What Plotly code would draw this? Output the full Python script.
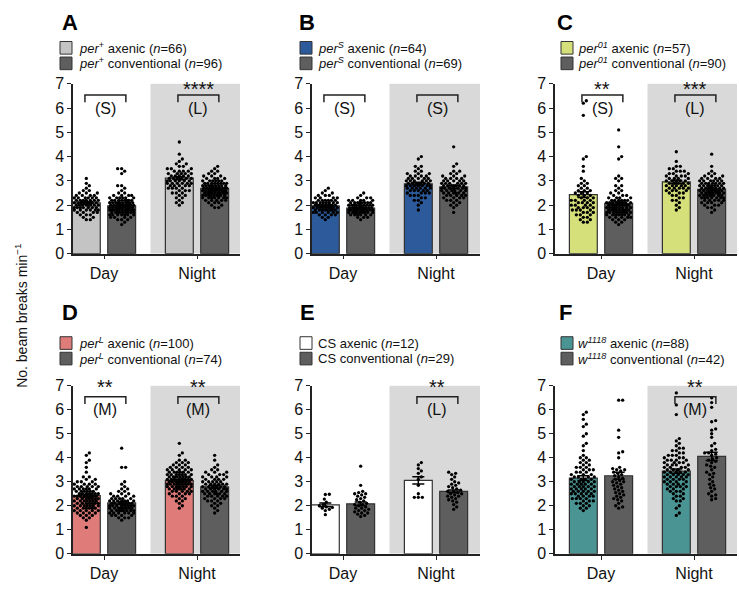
import plotly.graph_objects as go

W, H = 739, 589
FONT = "Liberation Sans, Arial, sans-serif"

# ---------------- data ----------------
periods = ["Day", "Night"]
panel_letters = ["A", "B", "C", "D", "E", "F"]
axenic_labels = [
    "<i>per</i><sup>+</sup> axenic (<i>n</i>=66)",
    "<i>per<sup>S</sup></i> axenic (<i>n</i>=64)",
    "<i>per<sup>01</sup></i> axenic (<i>n</i>=57)",
    "<i>per<sup>L</sup></i> axenic (<i>n</i>=100)",
    "CS axenic (<i>n</i>=12)",
    "<i>w<sup>1118</sup></i> axenic (<i>n</i>=88)",
]
conv_labels = [
    "<i>per</i><sup>+</sup> conventional (<i>n</i>=96)",
    "<i>per<sup>S</sup></i> conventional (<i>n</i>=69)",
    "<i>per<sup>01</sup></i> conventional (<i>n</i>=90)",
    "<i>per<sup>L</sup></i> conventional (<i>n</i>=74)",
    "CS conventional (<i>n</i>=29)",
    "<i>w<sup>1118</sup></i> conventional (<i>n</i>=42)",
]
axenic_colors = ["#c4c4c4", "#2d5a9b", "#d5e07a", "#df7c79", "#ffffff", "#4a9494"]
conv_color = "#5e5e5e"

# bar means / SEM  [Day, Night]
mean_ax = [[2.09, 3.11], [1.97, 2.88], [2.43, 2.96], [2.42, 3.05], [2.04, 3.06], [3.15, 3.44]]
mean_cv = [[1.97, 2.69], [1.88, 2.75], [2.07, 2.65], [2.12, 2.79], [2.08, 2.60], [3.25, 4.06]]
sem_ax = [[0.05, 0.06], [0.04, 0.06], [0.12, 0.07], [0.06, 0.05], [0.08, 0.15], [0.10, 0.09]]
sem_cv = [[0.04, 0.04], [0.03, 0.06], [0.06, 0.05], [0.06, 0.06], [0.08, 0.06], [0.15, 0.17]]

# individual flies: value -> count (read from dot clouds), or plain value lists
A_ax_day = {1.4: 2, 1.5: 2, 1.6: 3, 1.7: 4, 1.8: 6, 1.9: 7, 2.0: 8, 2.1: 8, 2.2: 7, 2.3: 6, 2.4: 4,
            2.5: 3, 2.6: 2, 2.7: 1, 2.8: 1, 2.9: 1, 3.1: 1}
A_cv_day = {1.2: 1, 1.3: 1, 1.4: 3, 1.5: 4, 1.6: 7, 1.7: 9, 1.8: 11, 1.9: 11, 2.0: 11, 2.1: 10, 2.2: 8,
            2.3: 6, 2.4: 4, 2.5: 2, 2.6: 1, 2.7: 1, 2.8: 2, 3.3: 1, 3.4: 1, 3.5: 2}
A_ax_night = {2.0: 1, 2.1: 2, 2.2: 1, 2.3: 2, 2.4: 2, 2.5: 3, 2.6: 3, 2.7: 4, 2.8: 5, 2.9: 6, 3.0: 6,
              3.1: 6, 3.2: 5, 3.3: 5, 3.4: 4, 3.5: 3, 3.6: 2, 3.7: 2, 3.8: 1, 3.9: 1, 4.1: 1, 4.6: 1}
A_cv_night = {1.9: 2, 2.0: 2, 2.1: 3, 2.2: 5, 2.3: 7, 2.4: 9, 2.5: 10, 2.6: 11, 2.7: 11, 2.8: 9, 2.9: 8,
              3.0: 6, 3.1: 4, 3.2: 3, 3.3: 2, 3.4: 2, 3.5: 1, 3.6: 1}

B_ax_day = {1.4: 1, 1.5: 2, 1.6: 4, 1.7: 6, 1.8: 8, 1.9: 9, 2.0: 9, 2.1: 8, 2.2: 6, 2.3: 4, 2.4: 3,
            2.5: 2, 2.6: 1, 2.7: 1}
B_cv_day = {1.4: 1, 1.5: 3, 1.6: 6, 1.7: 9, 1.8: 11, 1.9: 11, 2.0: 10, 2.1: 8, 2.2: 5, 2.3: 3, 2.4: 1,
            2.5: 1}
B_ax_night = {1.8: 1, 2.0: 1, 2.1: 1, 2.2: 2, 2.3: 2, 2.4: 3, 2.5: 4, 2.6: 5, 2.7: 6, 2.8: 7, 2.9: 7,
              3.0: 6, 3.1: 5, 3.2: 4, 3.3: 3, 3.4: 2, 3.5: 1, 3.6: 2, 3.9: 1, 4.0: 1}
B_cv_night = {1.7: 1, 1.9: 1, 2.0: 2, 2.1: 2, 2.2: 3, 2.3: 4, 2.4: 5, 2.5: 6, 2.6: 6, 2.7: 7, 2.8: 7,
              2.9: 6, 3.0: 5, 3.1: 4, 3.2: 3, 3.3: 2, 3.4: 2, 3.6: 1, 3.7: 1, 4.4: 1}

C_ax_day = {1.3: 2, 1.4: 2, 1.5: 2, 1.6: 3, 1.7: 3, 1.8: 4, 1.9: 4, 2.0: 4, 2.1: 4, 2.2: 4, 2.3: 3,
            2.4: 3, 2.5: 3, 2.6: 3, 2.7: 2, 2.8: 2, 2.9: 2, 3.0: 1, 3.1: 1, 3.4: 1, 3.6: 1, 3.9: 1,
            4.0: 1, 5.7: 1, 6.2: 1, 6.3: 1}
C_cv_day = {1.2: 1, 1.3: 2, 1.4: 3, 1.5: 5, 1.6: 7, 1.7: 9, 1.8: 9, 1.9: 9, 2.0: 9, 2.1: 8, 2.2: 6,
            2.3: 4, 2.4: 3, 2.5: 2, 2.6: 2, 2.7: 1, 2.8: 2, 3.0: 1, 3.1: 2, 3.2: 1, 3.9: 1, 4.0: 1,
            4.4: 1, 5.1: 1}
C_ax_night = {1.8: 1, 1.9: 1, 2.0: 1, 2.1: 1, 2.2: 2, 2.3: 2, 2.4: 2, 2.5: 3, 2.6: 4, 2.7: 5, 2.8: 5,
              2.9: 5, 3.0: 5, 3.1: 4, 3.2: 4, 3.3: 3, 3.4: 3, 3.5: 2, 3.6: 2, 3.8: 1, 4.2: 1}
C_cv_night = {1.7: 1, 1.8: 1, 1.9: 2, 2.0: 3, 2.1: 4, 2.2: 5, 2.3: 7, 2.4: 8, 2.5: 9, 2.6: 9, 2.7: 8,
              2.8: 8, 2.9: 7, 3.0: 6, 3.1: 4, 3.2: 3, 3.3: 2, 3.4: 1, 3.6: 1, 4.1: 1}

D_ax_day = {1.1: 1, 1.4: 1, 1.5: 2, 1.6: 3, 1.7: 4, 1.8: 5, 1.9: 6, 2.0: 7, 2.1: 7, 2.2: 7, 2.3: 7,
            2.4: 8, 2.5: 7, 2.6: 6, 2.7: 6, 2.8: 5, 2.9: 4, 3.0: 3, 3.1: 2, 3.2: 2, 3.4: 1, 3.6: 1,
            3.8: 1, 3.9: 1, 4.1: 1, 4.2: 1}
D_cv_day = {1.4: 1, 1.5: 3, 1.6: 4, 1.7: 6, 1.8: 8, 1.9: 8, 2.0: 8, 2.1: 7, 2.2: 7, 2.3: 5, 2.4: 4,
            2.5: 3, 2.6: 2, 2.7: 2, 2.8: 1, 2.9: 1, 3.0: 1, 3.6: 2, 4.4: 1}
D_ax_night = {1.9: 1, 2.0: 1, 2.1: 1, 2.2: 2, 2.3: 2, 2.4: 3, 2.5: 4, 2.6: 5, 2.7: 7, 2.8: 8, 2.9: 9,
              3.0: 8, 3.1: 8, 3.2: 8, 3.3: 7, 3.4: 6, 3.5: 5, 3.6: 4, 3.7: 3, 3.8: 3, 3.9: 2, 4.1: 1,
              4.2: 1, 4.6: 1}
D_cv_night = {1.7: 1, 1.8: 1, 1.9: 1, 2.0: 2, 2.1: 2, 2.2: 3, 2.3: 4, 2.4: 5, 2.5: 6, 2.6: 6, 2.7: 6,
              2.8: 6, 2.9: 6, 3.0: 5, 3.1: 4, 3.2: 4, 3.3: 3, 3.4: 3, 3.5: 2, 3.6: 1, 3.7: 1, 3.9: 1,
              4.1: 1}

E_ax_day = [2.48, 2.47, 2.28, 2.15, 2.05, 2.0, 1.95, 1.93, 1.9, 1.85, 1.8, 1.63]
E_cv_day = [3.65, 2.85, 2.6, 2.55, 2.5, 2.5, 2.45, 2.4, 2.35, 2.3, 2.25, 2.2, 2.15, 2.1, 2.05, 2.05,
            2.0, 1.95, 1.9, 1.9, 1.85, 1.8, 1.8, 1.75, 1.7, 1.7, 1.65, 1.6, 1.55]
E_ax_night = [3.8, 3.7, 3.55, 3.45, 3.35, 3.2, 3.1, 2.85, 2.5, 2.35, 2.35, 2.35]
E_cv_night = [3.4, 3.35, 3.3, 3.2, 3.1, 3.0, 2.95, 2.9, 2.85, 2.8, 2.75, 2.7, 2.65, 2.6, 2.6, 2.55,
              2.5, 2.5, 2.45, 2.4, 2.4, 2.35, 2.3, 2.25, 2.2, 2.15, 2.05, 1.95, 1.85]

F_ax_day = {1.8: 1, 1.9: 2, 2.0: 2, 2.1: 3, 2.2: 3, 2.3: 4, 2.4: 4, 2.5: 5, 2.6: 5, 2.7: 5, 2.8: 5,
            2.9: 5, 3.0: 5, 3.1: 4, 3.2: 4, 3.3: 3, 3.4: 3, 3.5: 3, 3.6: 3, 3.7: 2, 3.8: 2, 3.9: 2,
            4.0: 2, 4.1: 1, 4.3: 1, 4.5: 1, 4.6: 1, 4.9: 1, 5.0: 1, 5.3: 1, 5.4: 1, 5.6: 1, 5.8: 1,
            5.9: 1}
F_cv_day = [6.4, 6.4, 5.15, 4.85, 4.25, 4.2, 4.0, 3.6, 3.55, 3.5, 3.5, 3.45, 3.4, 3.35, 3.3, 3.25,
            3.2, 3.15, 3.1, 3.05, 3.0, 3.0, 2.95, 2.9, 2.85, 2.8, 2.75, 2.7, 2.65, 2.6, 2.55, 2.5,
            2.45, 2.4, 2.35, 2.3, 2.25, 2.2, 2.1, 2.0, 1.95, 1.9]
F_ax_night = {1.6: 1, 1.7: 1, 1.9: 1, 2.0: 1, 2.2: 2, 2.3: 2, 2.4: 2, 2.5: 2, 2.6: 3, 2.7: 3, 2.8: 4,
              2.9: 4, 3.0: 4, 3.1: 4, 3.2: 5, 3.3: 5, 3.4: 5, 3.5: 4, 3.6: 4, 3.7: 4, 3.8: 4, 3.9: 4,
              4.0: 3, 4.1: 3, 4.2: 2, 4.3: 2, 4.4: 2, 4.5: 1, 4.6: 1, 4.7: 1, 4.8: 1, 5.8: 1, 6.2: 1,
              6.7: 1}
F_cv_night = [6.5, 6.3, 6.1, 5.55, 5.5, 5.2, 5.15, 5.0, 4.85, 4.6, 4.5, 4.35, 4.3, 4.2, 4.2, 4.15,
              4.1, 4.0, 3.95, 3.9, 3.85, 3.8, 3.7, 3.65, 3.6, 3.5, 3.4, 3.35, 3.3, 3.2, 3.1, 3.0, 2.9,
              2.85, 2.75, 2.7, 2.6, 2.5, 2.45, 2.4, 2.3, 2.25]

dots_ax = [[A_ax_day, A_ax_night], [B_ax_day, B_ax_night], [C_ax_day, C_ax_night],
           [D_ax_day, D_ax_night], [E_ax_day, E_ax_night], [F_ax_day, F_ax_night]]
dots_cv = [[A_cv_day, A_cv_night], [B_cv_day, B_cv_night], [C_cv_day, C_cv_night],
           [D_cv_day, D_cv_night], [E_cv_day, E_cv_night], [F_cv_day, F_cv_night]]

# significance: (period index, stars, pattern label)
sig = [
    [(0, "", "(S)"), (1, "****", "(L)")],
    [(0, "", "(S)"), (1, "", "(S)")],
    [(0, "**", "(S)"), (1, "***", "(L)")],
    [(0, "**", "(M)"), (1, "**", "(M)")],
    [(1, "**", "(L)")],
    [(1, "**", "(M)")],
]

# ---------------- layout helpers ----------------
col_left = [73, 312, 555]
col_day = [104, 343, 601]
col_right = [240, 480, 737]
row_top = [78, 389]
row_bot = [253, 562]
star_base = [6.24, 6.39]
PPX = 93.0
OFF = 0.19
BAR_W = 0.30


def expand(d):
    if isinstance(d, dict):
        out = []
        for v, c in d.items():
            out += [v] * c
        return out
    return list(d)


def swarm(values, ppy, dmin=3.5, maxhalf=12.5):
    """deterministic beeswarm offsets (in px)"""
    order = sorted(range(len(values)), key=lambda i: values[i])
    placed = []
    offs = [0.0] * len(values)
    cands = [0.0]
    k = 1
    while k * 1.0 <= maxhalf:
        cands += [k * 1.0, -k * 1.0]
        k += 1
    for i in order:
        y = values[i] * ppy
        near = [(px, py) for (px, py) in placed if abs(py - y) < dmin]
        best, bestd = 0.0, -1
        chosen = None
        for c in cands:
            md = min([((c - px) ** 2 + (y - py) ** 2) ** 0.5 for px, py in near], default=99)
            if md >= dmin:
                chosen = c
                break
            if md > bestd:
                bestd, best = md, c
        if chosen is None:
            chosen = best
        offs[i] = chosen
        placed.append((chosen, y))
    return offs


def px_x(p):
    return p / W


def px_y(p):
    return 1 - p / H


fig = go.Figure()
shapes = []
annotations = []

for i in range(6):
    r, c = divmod(i, 3)
    sfx = "" if i == 0 else str(i + 1)
    xa, ya = "x" + sfx, "y" + sfx
    left, day, right = col_left[c], col_day[c], col_right[c]
    xr = [-(day - left) / PPX, (right - day) / PPX]
    ppy = (row_bot[r] - row_top[r]) / 7.0

    fig.update_layout(**{
        "xaxis" + sfx: dict(domain=[px_x(left), px_x(right)], range=xr, anchor=ya,
                            tickvals=[0, 1], ticktext=periods, showline=True, linecolor="#222",
                            linewidth=1.5, ticks="outside", ticklen=4, tickwidth=1.3,
                            tickcolor="#222", showgrid=False, zeroline=False,
                            tickfont=dict(size=16, color="#111", family=FONT)),
        "yaxis" + sfx: dict(domain=[px_y(row_bot[r]), px_y(row_top[r])], range=[0, 7], anchor=xa,
                            tickvals=list(range(8)), showline=True, linecolor="#222",
                            linewidth=1.5, ticks="outside", ticklen=4, tickwidth=1.3,
                            tickcolor="#222", showgrid=False, zeroline=False,
                            tickfont=dict(size=16, color="#111", family=FONT)),
    })

    # night shading
    shapes.append(dict(type="rect", xref=xa, yref=ya, x0=0.5, x1=xr[1], y0=0, y1=7.02,
                       fillcolor="#d9d9d9", line=dict(width=0), layer="below"))

    # bars
    fig.add_trace(go.Bar(x=[p - OFF for p in (0, 1)], y=mean_ax[i], width=BAR_W,
                         marker=dict(color=axenic_colors[i], line=dict(color="#333", width=1.2)),
                         xaxis=xa, yaxis=ya, showlegend=False, hoverinfo="skip"))
    fig.add_trace(go.Bar(x=[p + OFF for p in (0, 1)], y=mean_cv[i], width=BAR_W,
                         marker=dict(color=conv_color, line=dict(color="#333", width=1.2)),
                         xaxis=xa, yaxis=ya, showlegend=False, hoverinfo="skip"))

    # dots
    for grp, off in ((dots_ax[i], -OFF), (dots_cv[i], OFF)):
        xs, ys = [], []
        for p in (0, 1):
            vals = expand(grp[p])
            offs = swarm(vals, ppy)
            xs += [p + off + o / PPX for o in offs]
            ys += vals
        fig.add_trace(go.Scatter(x=xs, y=ys, mode="markers",
                                 marker=dict(size=3.3, color="black", line=dict(width=0)),
                                 xaxis=xa, yaxis=ya, showlegend=False, hoverinfo="skip"))

    # error bars
    fig.add_trace(go.Scatter(x=[p - OFF for p in (0, 1)] + [p + OFF for p in (0, 1)],
                             y=mean_ax[i] + mean_cv[i], mode="markers",
                             marker=dict(size=1, color="rgba(0,0,0,0)"),
                             error_y=dict(type="data", array=sem_ax[i] + sem_cv[i], color="black",
                                          thickness=1.5, width=6),
                             xaxis=xa, yaxis=ya, showlegend=False, hoverinfo="skip"))

    # significance brackets
    for (p, stars, lab) in sig[i]:
        x0, x1 = p - 0.205, p + 0.235
        yb = 6.54
        shapes.append(dict(type="path", xref=xa, yref=ya,
                           path=f"M {x0},{yb - 0.3} L {x0},{yb} L {x1},{yb} L {x1},{yb - 0.3}",
                           line=dict(color="#222", width=1.5)))
        if stars:
            annotations.append(dict(xref=xa, yref=ya, x=(x0 + x1) / 2, y=star_base[r], text=stars,
                                    showarrow=False, xanchor="center", yanchor="bottom",
                                    font=dict(size=20, color="#111", family=FONT)))
        annotations.append(dict(xref=xa, yref=ya, x=(x0 + x1) / 2, y=6.0, text=lab,
                                showarrow=False, xanchor="center", yanchor="middle",
                                font=dict(size=16, color="#111", family=FONT)))

    # panel letter
    letter_x = [70, 307, 565][c]
    letter_y = [15, 314][r]
    annotations.append(dict(xref="paper", yref="paper", x=px_x(letter_x), y=px_y(letter_y),
                            text=f"<b>{panel_letters[i]}</b>", showarrow=False,
                            xanchor="center", yanchor="middle",
                            font=dict(size=22, color="#000", family=FONT)))

    # legend
    sq_x = [66, 306, 567][c]
    txt_x = [77, 316, 576][c]
    leg_y = [[41, 57], [345, 361]][r]
    for (yy, col, lab) in ((leg_y[0], axenic_colors[i], axenic_labels[i]),
                           (leg_y[1], conv_color, conv_labels[i])):
        shapes.append(dict(type="rect", xref="paper", yref="paper",
                           x0=px_x(sq_x - 6), x1=px_x(sq_x + 6), y0=px_y(yy + 6.5), y1=px_y(yy - 6.5),
                           fillcolor=col, line=dict(color="#333", width=1)))
        annotations.append(dict(xref="paper", yref="paper", x=px_x(txt_x), y=px_y(yy), text=lab,
                                showarrow=False, xanchor="left", yanchor="middle",
                                font=dict(size=13, color="#111", family=FONT)))

annotations.append(dict(xref="paper", yref="paper", x=px_x(21), y=px_y(317),
                        text="No. beam breaks min<sup>\u22121</sup>", textangle=-90,
                        showarrow=False, xanchor="center", yanchor="middle",
                        font=dict(size=14, color="#111", family=FONT)))

fig.update_layout(width=W, height=H, margin=dict(l=0, r=0, t=0, b=0),
                  paper_bgcolor="white", plot_bgcolor="rgba(0,0,0,0)",
                  barmode="overlay", shapes=shapes, annotations=annotations,
                  font=dict(family=FONT), showlegend=False)

fig.write_html("out.html", config={"displayModeBar": False},
               post_script="document.body.style.margin='0px';document.body.style.overflow='hidden';")
